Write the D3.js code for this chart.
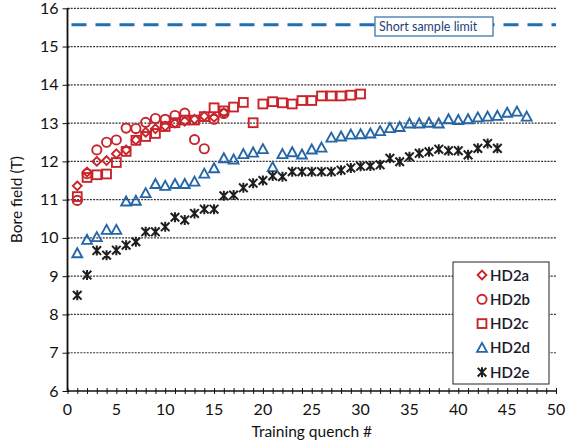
<!DOCTYPE html>
<html><head><meta charset="utf-8">
<script src="https://cdn.jsdelivr.net/npm/d3@7"></script>
<style>body{margin:0;background:#fff;} svg{display:block;}</style>
</head><body>
<svg id="c" width="566" height="446"></svg>
<script>
const xTicks = [0,5,10,15,20,25,30,35,40,45,50];
const yTicks = [6,7,8,9,10,11,12,13,14,15,16];
const seriesNames = ["HD2a","HD2b","HD2c","HD2d","HD2e"];
const shortSampleLimit = 15.57;
const shortSampleLabel = "Short sample limit";

const hd2a = [11.36,11.72,12.0,12.02,12.2,12.3,12.56,12.76,12.85,12.92,13.0,13.05,13.1,13.18,13.15,13.27];
const hd2b = [10.98,11.68,12.3,12.5,12.56,12.87,12.86,13.02,13.12,13.1,13.2,13.26,12.57,12.33,13.1,13.25];
const hd2c = [11.08,11.58,11.65,11.67,11.97,12.26,12.55,12.65,12.73,12.91,13.01,13.08,13.08,13.17,13.4,13.32,13.42,13.54,13.01,13.5,13.56,13.53,13.5,13.59,13.59,13.71,13.71,13.71,13.73,13.76];
const hd2d = [9.6,9.95,10.02,10.21,10.21,10.95,10.97,11.17,11.41,11.36,11.41,11.41,11.47,11.68,11.82,12.08,12.05,12.19,12.23,12.32,11.85,12.19,12.24,12.18,12.31,12.36,12.62,12.65,12.7,12.71,12.73,12.79,12.87,12.9,12.99,12.99,13.01,12.99,13.1,13.08,13.1,13.15,13.17,13.19,13.27,13.3,13.17];
const hd2e = [8.5,9.03,9.67,9.55,9.68,9.81,9.9,10.16,10.16,10.29,10.54,10.47,10.64,10.75,10.75,11.1,11.12,11.31,11.43,11.5,11.62,11.6,11.73,11.73,11.73,11.73,11.73,11.77,11.83,11.87,11.88,11.91,12.08,11.99,12.12,12.21,12.25,12.32,12.28,12.28,12.17,12.34,12.47,12.34];

const RED = "#c8242b", BLUE = "#2566a8", BLACK = "#1e1e1e";
const FONT = "Lato, 'Open Sans', sans-serif";

const svg = d3.select("#c");
const x = d3.scaleLinear().domain([0,50]).range([67.5,556]);
const y = d3.scaleLinear().domain([6,16]).range([391,8.3]);

// gridlines
svg.append("g").selectAll("line").data(yTicks.filter(v=>v>6)).join("line")
  .attr("x1", x(0)).attr("x2", x(50)).attr("y1", d=>y(d)).attr("y2", d=>y(d))
  .attr("stroke","#333").attr("stroke-width",1.2).attr("stroke-dasharray","2,1.2");

// short sample limit
svg.append("line").attr("x1", x(0)+4).attr("x2", x(50)).attr("y1", y(shortSampleLimit)).attr("y2", y(shortSampleLimit))
  .attr("stroke","#1f6fb5").attr("stroke-width",3.2).attr("stroke-dasharray","15,9");
const lbx = 375, lby = 17;
svg.append("rect").attr("x",lbx).attr("y",lby).attr("width",118).attr("height",19)
  .attr("fill","#fff").attr("stroke","#2f6aa8").attr("stroke-width",1.2);
svg.append("text").attr("x",lbx+4).attr("y",lby+14).text(shortSampleLabel)
  .attr("font-family",FONT).attr("font-size",12.5).attr("fill","#1f3f78");

// axes
const xAxis = d3.axisBottom(x).tickValues(d3.range(0,51)).tickSize(3).tickFormat("");
const gx = svg.append("g").attr("transform",`translate(0,${y(6)})`).call(xAxis);
gx.selectAll(".tick line").attr("y1",-3).attr("y2",3).attr("stroke","#111");
gx.select(".domain").attr("stroke","#111").attr("stroke-width",1.5).attr("d",`M${x(0)},0H${x(50)}`);
svg.append("g").selectAll("text").data(xTicks).join("text")
  .attr("x",d=>x(d)).attr("y",y(6)+24).attr("text-anchor","middle").text(d=>d)
  .attr("font-family",FONT).attr("font-size",16).attr("fill","#111");

const yAxis = d3.axisLeft(y).tickValues(yTicks).tickSize(5).tickFormat("");
const gy = svg.append("g").attr("transform",`translate(${x(0)},0)`).call(yAxis);
gy.selectAll(".tick line").attr("x1",-5).attr("x2",2).attr("stroke","#111");
gy.select(".domain").attr("stroke","#111").attr("stroke-width",1.8).attr("d",`M0,${y(16)}V${y(6)}`);
svg.append("g").selectAll("text").data(yTicks).join("text")
  .attr("x",x(0)-9).attr("y",d=>y(d)+5.5).attr("text-anchor","end").text(d=>d)
  .attr("font-family",FONT).attr("font-size",16).attr("fill","#111");

svg.append("text").attr("transform",`translate(22,${(y(6)+y(16))/2}) rotate(-90)`)
  .attr("text-anchor","middle").text("Bore field (T)")
  .attr("font-family",FONT).attr("font-size",15.5).attr("fill","#111");
svg.append("text").attr("x",(x(0)+x(50))/2).attr("y",437).attr("text-anchor","middle").text("Training quench #")
  .attr("font-family",FONT).attr("font-size",15.5).attr("fill","#111");

// markers
function drawMarker(g, type, color){
  const sw = 1.9;
  if(type==="diamond"){
    g.append("path").attr("d","M0,-4.4L4.4,0L0,4.4L-4.4,0Z").attr("fill","none").attr("stroke",color).attr("stroke-width",sw);
  } else if(type==="circle"){
    g.append("circle").attr("r",4.6).attr("fill","none").attr("stroke",color).attr("stroke-width",sw);
  } else if(type==="square"){
    g.append("rect").attr("x",-4.4).attr("y",-4.4).attr("width",8.8).attr("height",8.8).attr("fill","none").attr("stroke",color).attr("stroke-width",sw);
  } else if(type==="triangle"){
    g.append("path").attr("d","M0,-5L4.9,4L-4.9,4Z").attr("fill","none").attr("stroke",color).attr("stroke-width",sw);
  } else if(type==="star"){
    g.append("path").attr("d","M-4.3,-4.3L4.3,4.3M4.3,-4.3L-4.3,4.3M0,-5V5").attr("fill","none").attr("stroke",color).attr("stroke-width",2);
  }
}
const series = [
  {name:seriesNames[3], data:hd2d, type:"triangle", color:BLUE},
  {name:seriesNames[4], data:hd2e, type:"star", color:BLACK},
  {name:seriesNames[2], data:hd2c, type:"square", color:RED},
  {name:seriesNames[1], data:hd2b, type:"circle", color:RED},
  {name:seriesNames[0], data:hd2a, type:"diamond", color:RED}
];
series.forEach(s=>{
  const g = svg.append("g");
  g.selectAll("g").data(s.data.map((v,i)=>({q:i+1,v}))).join("g")
    .attr("transform",d=>`translate(${x(d.q)},${y(d.v)})`)
    .each(function(){ drawMarker(d3.select(this), s.type, s.color); });
});

// legend
const lg = svg.append("g");
lg.append("rect").attr("x",453).attr("y",262).attr("width",96).attr("height",122)
  .attr("fill","#fff").attr("stroke","#222").attr("stroke-width",1);
const legendItems = [
  {name:seriesNames[0], type:"diamond", color:RED},
  {name:seriesNames[1], type:"circle", color:RED},
  {name:seriesNames[2], type:"square", color:RED},
  {name:seriesNames[3], type:"triangle", color:BLUE},
  {name:seriesNames[4], type:"star", color:BLACK}
];
legendItems.forEach((it,i)=>{
  const yy = 275 + i*24.3;
  const m = lg.append("g").attr("transform",`translate(482,${yy})`);
  drawMarker(m, it.type, it.color);
  lg.append("text").attr("x",490).attr("y",yy+5.5).text(it.name)
    .attr("font-family",FONT).attr("font-size",15).attr("font-weight",600).attr("fill","#1a1a2a");
});
</script>
</body></html>
